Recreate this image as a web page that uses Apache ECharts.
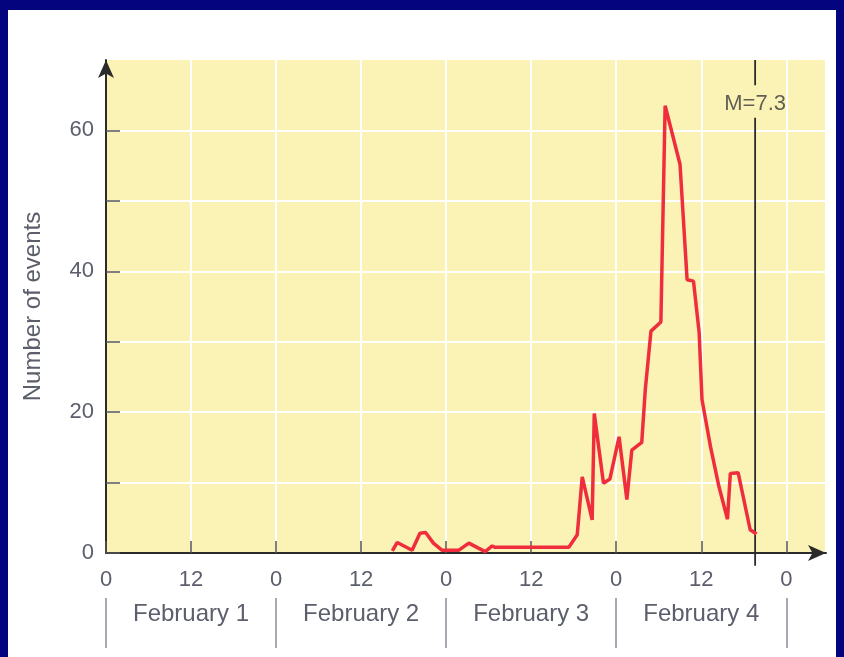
<!DOCTYPE html>
<html>
<head>
<meta charset="utf-8">
<script src="https://cdn.jsdelivr.net/npm/echarts@6/dist/echarts.min.js"></script>
<style>
  html, body { margin: 0; padding: 0; background: #04047e; }
  #panel { position: absolute; left: 8px; top: 10px; width: 828px; height: 647px; background: #ffffff; }
  #chart { position: absolute; left: 0; top: 0; width: 844px; height: 657px; }
</style>
</head>
<body>
<div id="panel"></div>
<div id="chart"></div>
<script>
// hours since Feb 1 00:00, events per hour
const hours = [40.4, 41.1, 43.2, 44.3, 45.1, 46.2, 47.4, 49.8, 51.2, 53.5, 54.5, 54.9, 65.3, 66.5, 67.2, 68.6, 68.9, 70.2, 71.1, 72.4, 73.5, 74.2, 75.6, 76.1, 76.9, 78.3, 78.9, 81.0, 82.0, 82.9, 83.7, 84.1, 85.3, 86.5, 87.7, 88.1, 89.2, 90.9, 91.8];
const counts = [0.3, 1.5, 0.4, 2.8, 2.9, 1.4, 0.4, 0.4, 1.4, 0.2, 1.0, 0.8, 0.8, 2.6, 10.8, 4.7, 19.8, 9.9, 10.5, 16.5, 7.6, 14.6, 15.7, 23.2, 31.5, 32.8, 63.5, 55.2, 38.8, 38.6, 31.3, 21.8, 15.1, 9.4, 4.8, 11.3, 11.4, 3.3, 2.7];

const dayNames = ['February 1', 'February 2', 'February 3', 'February 4'];
const dayMids = [12, 36, 60, 84];
const dayBounds = [0, 24, 48, 72, 96];
const yTickValues = [0, 10, 20, 30, 40, 50, 60];
const yLabelValues = [0, 20, 40, 60];

const quakeHour = 91.6;
const quakeLabel = 'M=7.3';

const grey = '#5b5e6b';
const font = 'Liberation Sans, Arial, sans-serif';

const chart = echarts.init(document.getElementById('chart'), null, { renderer: 'canvas' });

const option = {
  backgroundColor: 'transparent',
  animation: false,
  grid: {
    left: 106, top: 60, width: 720, height: 493,
    show: true, backgroundColor: '#fbf3b6', borderWidth: 0
  },
  xAxis: [
    {
      type: 'value', min: 0, max: 101.6, interval: 12,
      axisLine: { show: true, lineStyle: { color: '#2b2b2b', width: 2 }, symbol: ['none', 'arrow'], symbolSize: [12, 18] },
      axisTick: { show: true, inside: true, length: 12, lineStyle: { color: '#555', width: 1.5 } },
      axisLabel: {
        show: true, margin: 16, color: grey, fontSize: 22, fontFamily: font, showMaxLabel: false,
        formatter: v => (v % 12 !== 0 ? '' : (v % 24 === 0 ? '0' : '12'))
      },
      splitLine: { show: true, lineStyle: { color: '#ffffff', width: 2 } }
    },
    {
      type: 'value', min: 0, max: 101.6, position: 'bottom', offset: 45,
      axisLine: { show: false },
      axisTick: { show: true, customValues: dayBounds, length: 50, lineStyle: { color: '#8a8d96', width: 1.5 } },
      axisLabel: {
        show: true, customValues: dayMids, margin: 4, color: grey, fontSize: 24, fontFamily: font,
        formatter: v => dayNames[dayMids.indexOf(v)] || ''
      },
      splitLine: { show: false }
    }
  ],
  yAxis: {
    type: 'value', min: 0, max: 70, interval: 10,
    name: 'Number of events', nameLocation: 'middle', nameGap: 61,
    nameTextStyle: { color: grey, fontSize: 24, fontFamily: font },
    axisLine: { show: true, lineStyle: { color: '#2b2b2b', width: 2 }, symbol: ['none', 'arrow'], symbolSize: [12, 18] },
    axisTick: { show: true, inside: true, length: 14, customValues: yTickValues, lineStyle: { color: '#555', width: 1.5 } },
    axisLabel: {
      show: true, margin: 12, color: grey, fontSize: 22, fontFamily: font,
      formatter: v => (yLabelValues.indexOf(v) >= 0 ? String(v) : '')
    },
    splitLine: { show: true, lineStyle: { color: '#ffffff', width: 2 } }
  },
  series: [
    {
      type: 'line',
      xAxisIndex: 0,
      data: [[quakeHour, -1.8], [quakeHour, 61.8], null, [quakeHour, 66.4], [quakeHour, 70]],
      showSymbol: false, clip: false, connectNulls: false,
      lineStyle: { color: '#2a2a2a', width: 1.8 },
      z: 3
    },
    {
      type: 'scatter',
      xAxisIndex: 0,
      data: [[quakeHour, 63.7]],
      symbolSize: 0,
      label: { show: true, position: 'inside', formatter: quakeLabel, color: '#3a3a3a', fontSize: 22, fontFamily: font },
      z: 4
    },
    {
      type: 'line',
      xAxisIndex: 0,
      data: hours.map((h, i) => [h, counts[i]]),
      showSymbol: false,
      lineStyle: { color: '#ef2d3c', width: 3.5 },
      z: 5
    }
  ]
};

chart.setOption(option);
</script>
</body>
</html>
